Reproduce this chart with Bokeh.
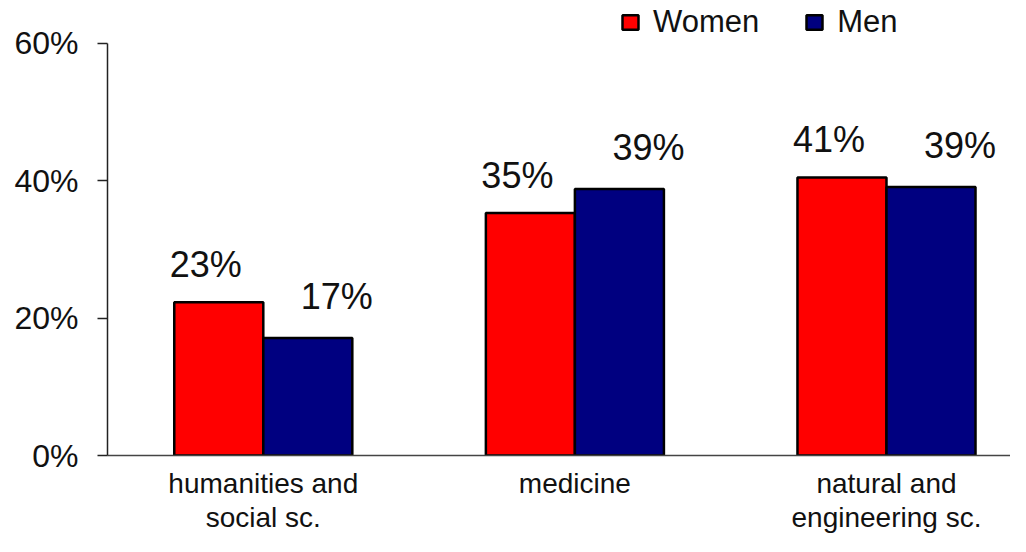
from bokeh.plotting import figure
from bokeh.models import (ColumnDataSource, Range1d, FixedTicker, PrintfTickFormatter,
                          Legend, LegendItem)
from bokeh.core.properties import value
from bokeh.embed import file_html
from bokeh.resources import INLINE

categories = ["humanities and\nsocial sc.", "medicine", "natural and\nengineering sc."]
women = [22.3, 35.3, 40.5]
men = [17.1, 38.8, 39.1]
women_labels = ["23%", "35%", "41%"]
men_labels = ["17%", "39%", "39%"]
y_ticks = [0, 20, 40, 60]

FONT = "Liberation Sans"
RED = "#FF0000"
NAVY = "#000080"
BAR_W = 0.2857
Y_MAX = 60
Y_TOP = 66.26  # room above the axis for the legend

xs = list(range(len(categories)))
src_w = ColumnDataSource(dict(x=[x - BAR_W / 2 for x in xs], top=women, lab=women_labels))
src_m = ColumnDataSource(dict(x=[x + BAR_W / 2 for x in xs], top=men, lab=men_labels))

p = figure(width=1010, height=536, output_backend="svg", toolbar_location=None,
           x_range=Range1d(-0.5, 2.398), y_range=Range1d(0, Y_TOP),
           min_border_left=107, min_border_right=0, min_border_top=0, min_border_bottom=81)
p.outline_line_color = None
p.xgrid.visible = False
p.ygrid.visible = False
p.background_fill_color = "white"
p.border_fill_color = "white"

rw = p.vbar(x="x", top="top", width=BAR_W, source=src_w, fill_color=RED,
            line_color="black", line_width=2.5)
rm = p.vbar(x="x", top="top", width=BAR_W, source=src_m, fill_color=NAVY,
            line_color="black", line_width=2.5)

p.text(x="x", y="top", text="lab", source=src_w, text_font=value(FONT),
       text_font_size="36px", text_align="center", text_baseline="alphabetic",
       x_offset=-13, y_offset=-38, text_color="#111111")
p.text(x="x", y="top", text="lab", source=src_m, text_font=value(FONT),
       text_font_size="36px", text_align="center", text_baseline="alphabetic",
       x_offset=29, y_offset=-42, text_color="#111111")

# y axis
ya = p.yaxis[0]
ya.bounds = (0, Y_MAX)
ya.ticker = FixedTicker(ticks=y_ticks)
ya.formatter = PrintfTickFormatter(format="%d%%")
ya.major_tick_out = 10
ya.major_tick_in = 0
ya.minor_tick_out = 0
ya.minor_tick_in = 0
ya.axis_line_width = 1.5
ya.axis_line_color = "#222222"
ya.major_tick_line_width = 1.5
ya.major_tick_line_color = "#222222"
ya.major_label_standoff = 19
ya.major_label_text_font = FONT
ya.major_label_text_font_size = "32px"
ya.major_label_text_color = "#111111"

# x axis
xa = p.xaxis[0]
xa.ticker = FixedTicker(ticks=xs)
xa.major_label_overrides = {i: c for i, c in zip(xs, categories)}
xa.major_tick_out = 0
xa.major_tick_in = 0
xa.minor_tick_out = 0
xa.minor_tick_in = 0
xa.axis_line_width = 1.5
xa.axis_line_color = "#444444"
xa.major_label_standoff = 12
xa.major_label_text_font = FONT
xa.major_label_text_font_size = "28px"
xa.major_label_text_line_height = 1.1
xa.major_label_text_color = "#111111"

legend = Legend(items=[LegendItem(label="Women", renderers=[rw]),
                       LegendItem(label="Men", renderers=[rm])],
                orientation="horizontal", location=(513, 415),
                glyph_width=20, glyph_height=18, label_standoff=13, spacing=45,
                padding=0, margin=0, border_line_color=None,
                background_fill_alpha=0, label_text_font=FONT,
                label_text_font_size="31px", label_text_color="#111111")
p.add_layout(legend)

open("out.html", "w").write(file_html(p, INLINE))
